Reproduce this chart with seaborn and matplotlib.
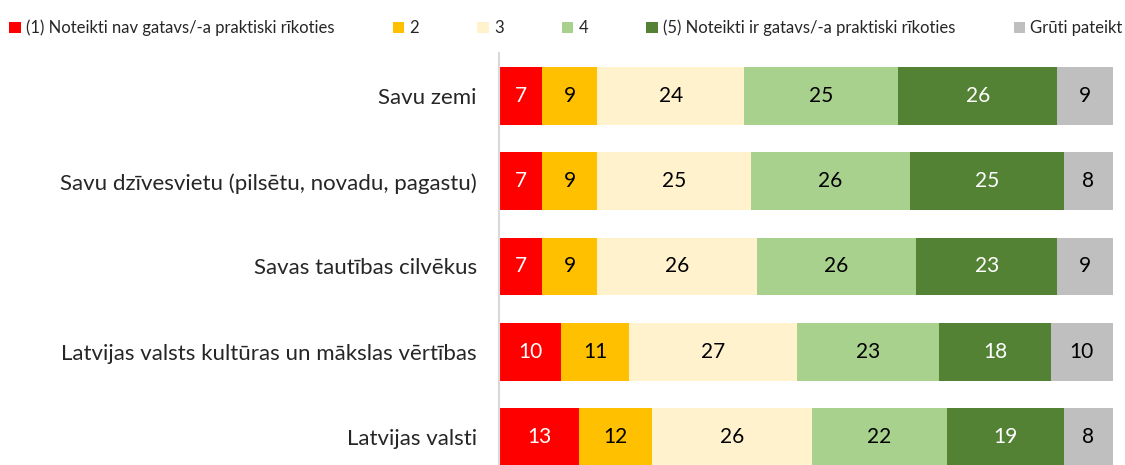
import numpy as np
import pandas as pd
import seaborn as sns
import matplotlib.pyplot as plt
from matplotlib.patches import Patch

categories = [
    "Savu zemi",
    "Savu dzīvesvietu (pilsētu, novadu, pagastu)",
    "Savas tautības cilvēkus",
    "Latvijas valsts kultūras un mākslas vērtības",
    "Latvijas valsti",
]
series_names = [
    "(1) Noteikti nav gatavs/-a praktiski rīkoties",
    "2",
    "3",
    "4",
    "(5) Noteikti ir gatavs/-a praktiski rīkoties",
    "Grūti pateikt",
]
v1 = [7, 7, 7, 10, 13]
v2 = [9, 9, 9, 11, 12]
v3 = [24, 25, 26, 27, 26]
v4 = [25, 26, 26, 23, 22]
v5 = [26, 25, 23, 18, 19]
v6 = [9, 8, 9, 10, 8]

colors = ["#FF0000", "#FFC000", "#FFF2CC", "#A9D18E", "#548235", "#BFBFBF"]
text_colors = ["white", "black", "black", "black", "white", "black"]

sns.set_theme(style="white")
plt.rcParams['font.family'] = ['Lato', 'DejaVu Sans']

df = pd.DataFrame(dict(zip(series_names, [v1, v2, v3, v4, v5, v6])), index=categories)
# stretch each row to full width (labels are rounded values)
share = df.div(df.sum(axis=1), axis=0) * 100
cum = share.cumsum(axis=1)

fig = plt.figure(figsize=(11.25, 4.65), dpi=100)
ax = fig.add_axes([0.4436, 0.0, 0.5454, 0.885])

# draw cumulative bars from the widest down so they look stacked
for i in range(len(series_names) - 1, -1, -1):
    col = series_names[i]
    sns.barplot(x=cum[col].values, y=categories, color=colors[i], orient="h",
                width=0.68, saturation=1, linewidth=0, ax=ax)

for r, cat in enumerate(categories):
    for i, col in enumerate(series_names):
        mid = cum[col].iloc[r] - share[col].iloc[r] / 2
        ax.text(mid, r, str(df[col].iloc[r]), ha="center", va="center",
                fontsize=15, color=text_colors[i])

ax.set_xlim(0, 100)
ax.set_ylim(4.33, -0.5)
ax.set_xticks([])
ax.set_xlabel("")
ax.set_ylabel("")
ax.tick_params(axis="y", length=0, labelsize=16, pad=16)
for s in ["top", "right", "bottom"]:
    ax.spines[s].set_visible(False)
ax.spines["left"].set_color("#D9D9D9")
ax.spines["left"].set_linewidth(1.5)

handles = [Patch(facecolor=c, edgecolor="none") for c in colors]
fig.legend(handles, series_names, loc="upper center", bbox_to_anchor=(0.503, 0.99),
           ncol=6, frameon=False, fontsize=12, handlelength=0.7, handleheight=0.7,
           handletextpad=0.3, columnspacing=3.5)

fig.savefig("out.png", dpi=100)
